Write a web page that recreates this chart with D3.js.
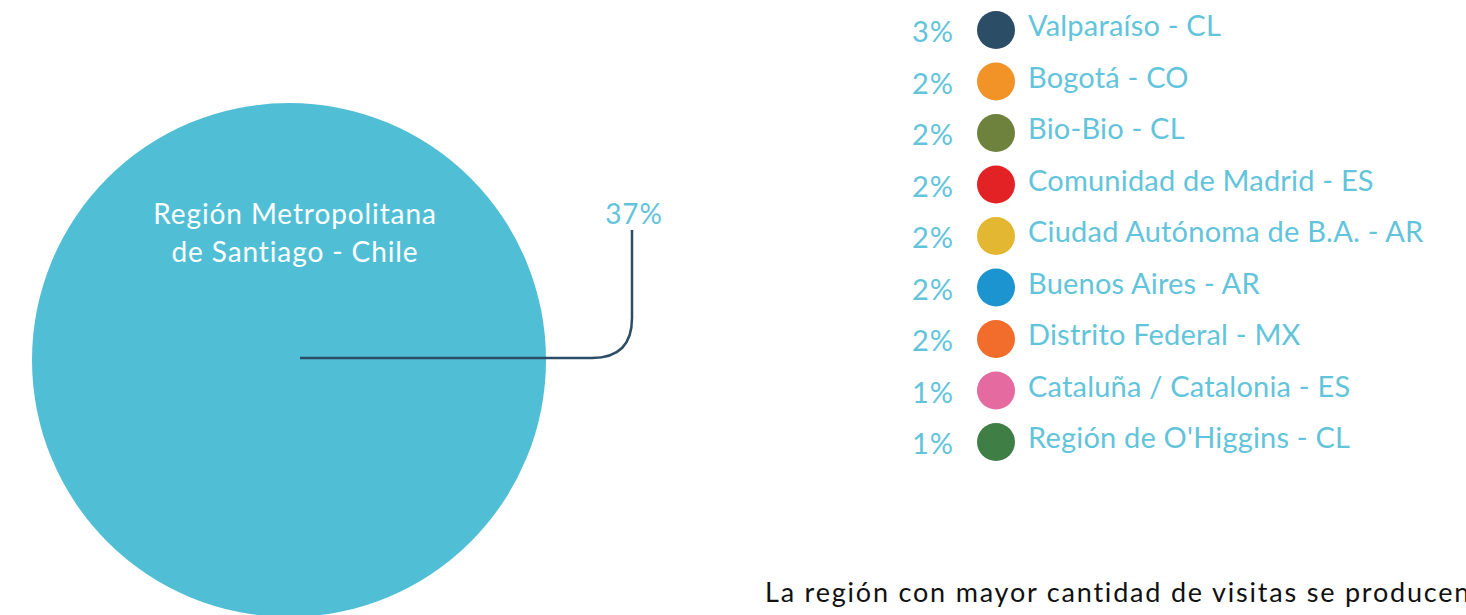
<!DOCTYPE html>
<html>
<head>
<meta charset="utf-8">
<script src="https://cdn.jsdelivr.net/npm/d3@7"></script>
<style>
  body { margin: 0; background: #fff; }
  svg { display: block; }
  text { font-family: Lato, "Open Sans", sans-serif; }
</style>
</head>
<body>
<script>
// data
const mainLabel = ["Región Metropolitana", "de Santiago - Chile"];
const mainValue = 37;
const regions = ["Valparaíso - CL", "Bogotá - CO", "Bio-Bio - CL", "Comunidad de Madrid - ES",
  "Ciudad Autónoma de B.A. - AR", "Buenos Aires - AR", "Distrito Federal - MX",
  "Cataluña / Catalonia - ES", "Región de O'Higgins - CL"];
const values = [3, 2, 2, 2, 2, 2, 2, 1, 1];
const colors = ["#2b4d66", "#f29327", "#6e823d", "#e32226", "#e4b733",
  "#1c94d0", "#f26d2b", "#e46aa0", "#3f7f45"];
const note = "La región con mayor cantidad de visitas se producen";

const W = 1466, H = 615;
const labelColor = "#62c4db";
const bigColor = "#50bfd6";
const lineColor = "#2b4d66";

const svg = d3.select("body").append("svg").attr("width", W).attr("height", H);

// big circle
const cx = 289, cy = 360, r = 257;
svg.append("circle").attr("cx", cx).attr("cy", cy).attr("r", r).attr("fill", bigColor);

svg.selectAll("text.main").data(mainLabel).join("text")
  .attr("class", "main")
  .attr("x", 295).attr("y", (d, i) => 224 + i * 38)
  .attr("text-anchor", "middle")
  .attr("fill", "#fff")
  .style("font-size", "28px")
  .style("letter-spacing", "0.9px")
  .text(d => d);

// leader line
const p = d3.path();
p.moveTo(300, 358);
p.lineTo(592, 358);
p.quadraticCurveTo(632, 358, 632, 318);
p.lineTo(632, 230);
svg.append("path").attr("d", p.toString()).attr("fill", "none")
  .attr("stroke", lineColor).attr("stroke-width", 2.5);

svg.append("text").attr("x", 634).attr("y", 224).attr("text-anchor", "middle")
  .attr("fill", labelColor).style("font-size", "28px").style("letter-spacing", "0.8px")
  .text(mainValue + "%");

// legend
const y = d3.scalePoint().domain(regions).range([30, 442]);
const rows = svg.selectAll("g.row").data(regions).join("g")
  .attr("class", "row")
  .attr("transform", d => `translate(0,${y(d)})`);

rows.append("circle").attr("cx", 996).attr("cy", 0).attr("r", 19)
  .attr("fill", (d, i) => colors[i]);
rows.append("text").attr("x", 954).attr("y", 12).attr("text-anchor", "end")
  .attr("fill", labelColor).style("font-size", "29px").style("letter-spacing", "1px")
  .text((d, i) => values[i] + "%");
rows.append("text").attr("x", 1028).attr("y", 6)
  .attr("fill", labelColor).style("font-size", "29px").style("letter-spacing", "0.2px")
  .text(d => d);

// note
svg.append("text").attr("x", 765).attr("y", 602)
  .attr("fill", "#111").style("font-size", "27px").style("letter-spacing", "1.8px")
  .text(note);
</script>
</body>
</html>
